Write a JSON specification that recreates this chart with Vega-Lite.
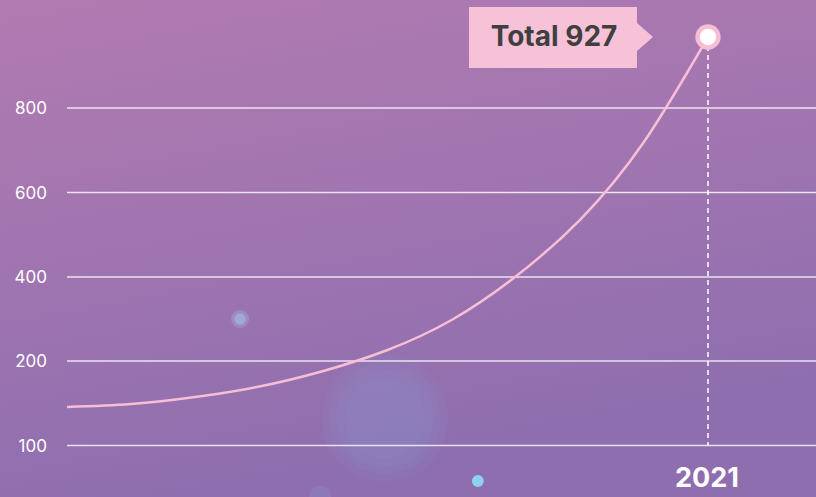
{
  "$schema": "https://vega.github.io/schema/vega-lite/v6.json",
  "width": 816,
  "height": 497,
  "padding": 0,
  "autosize": {"type": "none"},
  "background": "#a074ae",
  "config": {
    "view": {
      "stroke": null,
      "fill": {
        "gradient": "linear",
        "x1": 0, "y1": 0, "x2": 0.3, "y2": 1,
        "stops": [
          {"offset": 0, "color": "#b27bb1"},
          {"offset": 1, "color": "#8e6eaf"}
        ]
      }
    },
    "font": "Inter"
  },
  "datasets": {
    "series": [
      {"year": 2011, "value": 145.6},
      {"year": 2012, "value": 149.1},
      {"year": 2013, "value": 157.4},
      {"year": 2014, "value": 169.8},
      {"year": 2015, "value": 188.2},
      {"year": 2016, "value": 226.2},
      {"year": 2017, "value": 297.6},
      {"year": 2018, "value": 401.2},
      {"year": 2019, "value": 534.9},
      {"year": 2020, "value": 719.5},
      {"year": 2021, "value": 927}
    ],
    "grid": [
      {"value": 100},
      {"value": 200},
      {"value": 400},
      {"value": 600},
      {"value": 800}
    ],
    "total": [{"year": 2021, "value": 927, "label": "Total 927", "yearLabel": "2021"}],
    "bigglow": [{"year": 2015.96, "value": 132}],
    "cyandot": [{"year": 2017.41, "value": 58}],
    "softdot": [{"year": 2013.7, "value": 300}],
    "bottomglow": [{"year": 2014.95, "value": 39}]
  },
  "layer": [
    {
      "data": {"name": "bigglow"},
      "mark": {"type": "circle", "color": "#8a92cf", "opacity": 0.12, "size": 16000},
      "encoding": {
        "x": {"field": "year", "type": "quantitative", "scale": {"domain": [2009.955, 2022.685], "nice": false, "zero": false}, "axis": null},
        "y": {"field": "value", "type": "quantitative", "scale": {"domain": [100, 200, 400, 600, 800, 927], "range": [445.5, 361, 277, 192.5, 108, 37], "nice": false, "zero": false}, "axis": null}
      }
    },
    {
      "data": {"name": "bigglow"},
      "mark": {"type": "circle", "color": "#8a92cf", "opacity": 0.12, "size": 12500},
      "encoding": {
        "x": {"field": "year", "type": "quantitative", "axis": null},
        "y": {"field": "value", "type": "quantitative", "axis": null}
      }
    },
    {
      "data": {"name": "bigglow"},
      "mark": {"type": "circle", "color": "#8a92cf", "opacity": 0.12, "size": 9500},
      "encoding": {
        "x": {"field": "year", "type": "quantitative", "axis": null},
        "y": {"field": "value", "type": "quantitative", "axis": null}
      }
    },
    {
      "data": {"name": "bigglow"},
      "mark": {"type": "circle", "color": "#8a92cf", "opacity": 0.12, "size": 6500},
      "encoding": {
        "x": {"field": "year", "type": "quantitative", "axis": null},
        "y": {"field": "value", "type": "quantitative", "axis": null}
      }
    },
    {
      "data": {"name": "bottomglow"},
      "mark": {"type": "circle", "color": "#8a92cf", "opacity": 0.3, "size": 500},
      "encoding": {
        "x": {"field": "year", "type": "quantitative", "axis": null},
        "y": {"field": "value", "type": "quantitative", "axis": null}
      }
    },
    {
      "data": {"name": "softdot"},
      "mark": {"type": "circle", "color": "#a6d6f0", "opacity": 0.25, "size": 320},
      "encoding": {
        "x": {"field": "year", "type": "quantitative", "axis": null},
        "y": {"field": "value", "type": "quantitative", "axis": null}
      }
    },
    {
      "data": {"name": "softdot"},
      "mark": {"type": "circle", "color": "#a6d6f0", "opacity": 0.4, "size": 130},
      "encoding": {
        "x": {"field": "year", "type": "quantitative", "axis": null},
        "y": {"field": "value", "type": "quantitative", "axis": null}
      }
    },
    {
      "data": {"name": "cyandot"},
      "mark": {"type": "circle", "color": "#8cd8f3", "opacity": 0.95, "size": 140},
      "encoding": {
        "x": {"field": "year", "type": "quantitative", "axis": null},
        "y": {"field": "value", "type": "quantitative", "axis": null}
      }
    },
    {
      "data": {"name": "grid"},
      "mark": {"type": "rule", "color": "#ffffff", "opacity": 0.8, "strokeWidth": 1.5},
      "encoding": {
        "x": {"datum": 2011, "type": "quantitative", "axis": null},
        "x2": {"datum": 2022.685},
        "y": {"field": "value", "type": "quantitative", "axis": null}
      }
    },
    {
      "data": {"name": "grid"},
      "mark": {"type": "text", "align": "right", "baseline": "middle", "dx": -20, "dy": 1, "fontSize": 17, "color": "#ffffff", "font": "Inter"},
      "encoding": {
        "x": {"datum": 2011, "type": "quantitative", "axis": null},
        "y": {"field": "value", "type": "quantitative", "axis": null},
        "text": {"field": "value", "type": "quantitative", "format": "d"}
      }
    },
    {
      "data": {"name": "total"},
      "mark": {"type": "rule", "color": "#ffffff", "strokeWidth": 1.5, "strokeDash": [5, 4]},
      "encoding": {
        "x": {"field": "year", "type": "quantitative", "axis": null},
        "y": {"field": "value", "type": "quantitative", "axis": null},
        "y2": {"datum": 100}
      }
    },
    {
      "data": {"name": "total"},
      "mark": {"type": "text", "align": "center", "baseline": "middle", "dx": -1, "fontSize": 27, "fontWeight": "bold", "color": "#ffffff", "font": "Inter"},
      "encoding": {
        "x": {"field": "year", "type": "quantitative", "axis": null},
        "y": {"datum": 60, "type": "quantitative", "axis": null},
        "text": {"field": "yearLabel"}
      }
    },
    {
      "data": {"name": "series"},
      "mark": {"type": "line", "color": "#f7bed5", "strokeWidth": 2.5, "interpolate": "natural"},
      "encoding": {
        "x": {"field": "year", "type": "quantitative", "axis": null},
        "y": {"field": "value", "type": "quantitative", "axis": null}
      }
    },
    {
      "data": {"name": "total"},
      "mark": {
        "type": "point",
        "shape": "M-1,-0.1255L-0.2971,-0.1255L-0.2971,-0.0586L-0.2301,0L-0.2971,0.0586L-0.2971,0.1297L-1,0.1297Z",
        "filled": true,
        "color": "#f7c1d7",
        "opacity": 1,
        "strokeWidth": 0,
        "size": 228484
      },
      "encoding": {
        "x": {"field": "year", "type": "quantitative", "axis": null},
        "y": {"field": "value", "type": "quantitative", "axis": null}
      }
    },
    {
      "data": {"name": "total"},
      "mark": {"type": "text", "align": "center", "baseline": "middle", "dx": -154, "dy": 1, "fontSize": 28, "fontWeight": "bold", "color": "#3f3f3f", "font": "Inter"},
      "encoding": {
        "x": {"field": "year", "type": "quantitative", "axis": null},
        "y": {"field": "value", "type": "quantitative", "axis": null},
        "text": {"field": "label"}
      }
    },
    {
      "data": {"name": "total"},
      "mark": {"type": "point", "shape": "circle", "filled": true, "fill": "#ffffff", "stroke": "#f6bdd4", "strokeWidth": 4.5, "size": 434, "opacity": 1},
      "encoding": {
        "x": {"field": "year", "type": "quantitative", "axis": null},
        "y": {"field": "value", "type": "quantitative", "axis": null}
      }
    }
  ]
}
